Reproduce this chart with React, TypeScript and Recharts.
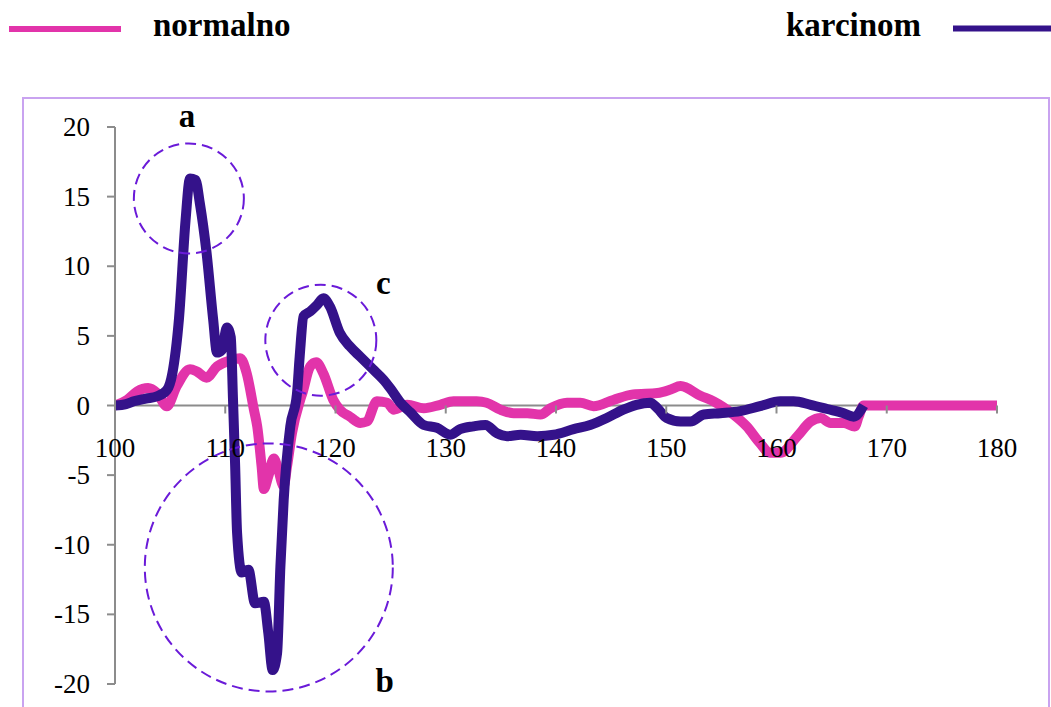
import React from "react";
import { LineChart, Line, XAxis, YAxis, ReferenceLine, ReferenceDot } from "recharts";

// x positions and values
const normalnoX = [
  100, 101.1, 102, 103, 103.8, 104.7, 105.6, 106.8, 107.4, 108.3, 109.25, 110.3, 111.35, 111.95,
  112.6, 112.9, 113.3, 113.5, 113.9, 114.4, 114.8, 115.3, 115.6, 116.05, 116.8, 117, 117.7, 118.25,
  118.9, 119.8, 120.4, 121.3, 122.25, 122.85, 123.75, 124.7, 125.3, 126.5, 128, 129.5, 130.7, 132.8,
  133.7, 134.95, 136.15, 137.4, 138.6, 139.5, 141, 142.2, 143.4, 145.2, 147, 149.2, 150.4, 151.3,
  153.1, 154.3, 156.1, 157.3, 158.5, 159.4, 160.35, 161.9, 163.1, 164, 164.9, 166.1, 167.1, 167.45,
  167.9, 170, 175, 180,
];
const normalnoY = [
  0, 0.4, 1.0, 1.25, 0.9, -0.05, 1.4, 2.6, 2.45, 2.0, 2.8, 3.2, 3.4, 2.3,
  -0.3, -1.5, -4.4, -6.0, -5.1, -3.8, -4.6, -5.8, -4.4, -2.0, 0.4, 0.9, 2.8, 3.1,
  2.3, 0.4, -0.3, -0.8, -1.25, -1.15, 0.3, 0.2, -0.3, 0.05, -0.2, 0.05, 0.3, 0.3,
  0.2, -0.3, -0.55, -0.55, -0.65, -0.2, 0.2, 0.2, -0.05, 0.4, 0.8, 0.9, 1.15, 1.4,
  0.7, 0.3, -0.65, -1.5, -2.7, -3.4, -3.4, -2.2, -1.15, -0.9, -1.25, -1.25, -1.5, -0.8,
  0, 0, 0, 0,
];

const karcinomX = [
  100, 101, 101.7, 102.8, 103.8, 104.7, 105.2, 105.8, 106.4, 106.8, 107.3, 107.7, 108.3, 108.9,
  109.25, 109.7, 110.15, 110.5, 110.7, 110.9, 111.07, 111.5, 112.1, 112.7, 113.5, 113.9, 114.3, 114.7,
  115, 115.3, 115.9, 116.5, 116.75, 117.1, 117.7, 118.3, 118.9, 119.5, 120.4, 121.3, 122.25, 123.4,
  124.35, 125, 125.9, 126.8, 128, 129.2, 130.4, 131.3, 132.5, 133.6, 134.65, 135.55, 136.8, 138.3,
  139.8, 141.6, 143.1, 144.6, 146.1, 147.3, 148.55, 149.2, 150.05, 151.3, 152.2, 153.4, 154.9, 156.7,
  158.5, 160.35, 161.55, 163.1, 164.6, 166.1, 167, 167.9,
];
const karcinomY = [
  0, 0.1, 0.3, 0.5, 0.65, 1.1, 2.3, 6.2, 13.3, 16.3, 16.2, 14.5, 11, 6.2,
  3.8, 4.0, 5.6, 4.9, 0.5, -4.4, -9.1, -12, -11.8, -14.2, -14.1, -16.3, -19, -17.8,
  -11.6, -6.8, -1.5, 0.8, 3.5, 6.4, 6.75, 7.2, 7.7, 7.1, 5.2, 4.25, 3.5, 2.6,
  1.85, 1.2, 0.2, -0.5, -1.4, -1.6, -2.1, -1.7, -1.5, -1.4, -2.0, -2.2, -2.1, -2.2,
  -2.1, -1.7, -1.4, -0.9, -0.3, 0.05, 0.2, -0.2, -0.9, -1.15, -1.15, -0.65, -0.55, -0.4,
  -0.05, 0.3, 0.3, 0.05, -0.25, -0.55, -0.8, 0,
];

const xTicks = [100, 110, 120, 130, 140, 150, 160, 170, 180];
const yTicks = [-20, -15, -10, -5, 0, 5, 10, 15, 20];

const normalnoData = normalnoX.map((x, i) => ({ x, y: normalnoY[i] }));
const karcinomData = karcinomX.map((x, i) => ({ x, y: karcinomY[i] }));

const PINK = "#e234aa";
const PURPLE = "#34128a";
const CIRCLE = "#6a1ad8";
const AXIS = "#8c8c8c";
const SERIF = "'Liberation Serif', serif";

const W = 1051;
const H = 707;
const M = { top: 127, right: 54, bottom: 22, left: 20 };
const PLOT_H = H - M.top - M.bottom - 1;

const numStyle = { fontFamily: SERIF, fontSize: 27, fill: "#000" };
const boldStyle = { fontFamily: SERIF, fontSize: 33, fontWeight: 700, fill: "#000" };

// x axis crosses at y = 0, so ticks are drawn from the zero line
const ZeroAxisTick = ({ x, y, payload }: any) => {
  const zeroY = y - PLOT_H / 2;
  return (
    <g>
      <line x1={x} x2={x} y1={zeroY} y2={zeroY + 8} stroke={AXIS} strokeWidth={2} />
      <text x={x} y={zeroY + 51} textAnchor="middle" style={numStyle}>
        {payload.value}
      </text>
    </g>
  );
};

const YTick = ({ x, y, payload }: any) => (
  <text x={x} y={y + 9} textAnchor="end" style={numStyle}>
    {payload.value}
  </text>
);

const letter = (ch: string) => (props: any) => {
  const vb = props.viewBox || {};
  return (
    <text x={vb.x} y={vb.y} textAnchor="middle" style={boldStyle}>
      {ch}
    </text>
  );
};

export default function App() {
  return (
    <div style={{ position: "absolute", left: 0, top: 0, width: W, height: H, background: "#fff", overflow: "hidden" }}>
      <svg width={W} height={60} style={{ position: "absolute", left: 0, top: 0 }}>
        <line x1={9} x2={121} y1={29} y2={29} stroke={PINK} strokeWidth={6} />
        <text x={153} y={36} style={boldStyle}>
          normalno
        </text>
        <text x={786} y={36} style={boldStyle}>
          karcinom
        </text>
        <line x1={953} x2={1051} y1={28.5} y2={28.5} stroke={PURPLE} strokeWidth={6} />
      </svg>
      <div
        style={{
          position: "absolute",
          left: 22,
          top: 97,
          width: 1024,
          height: 700,
          border: "2px solid #c9a3f0",
        }}
      />
      <div style={{ position: "absolute", left: 0, top: 0 }}>
        <LineChart width={W} height={H} margin={M}>
          <XAxis
            dataKey="x"
            type="number"
            domain={[100, 180]}
            ticks={xTicks}
            interval={0}
            axisLine={false}
            tickLine={false}
            tickSize={0}
            tickMargin={0}
            height={1}
            tick={<ZeroAxisTick />}
            allowDataOverflow
          />
          <YAxis
            type="number"
            domain={[-20, 20]}
            ticks={yTicks}
            interval={0}
            width={95}
            axisLine={{ stroke: AXIS, strokeWidth: 2 }}
            tickLine={{ stroke: AXIS, strokeWidth: 2 }}
            tickSize={8}
            tickMargin={17}
            tick={<YTick />}
            allowDataOverflow
          />
          <ReferenceLine y={0} stroke={AXIS} strokeWidth={2} />
          <Line
            data={normalnoData}
            dataKey="y"
            type="monotone"
            stroke={PINK}
            strokeWidth={10}
            dot={false}
            strokeLinejoin="round"
            isAnimationActive={false}
          />
          <Line
            data={karcinomData}
            dataKey="y"
            type="monotone"
            stroke={PURPLE}
            strokeWidth={10}
            dot={false}
            strokeLinejoin="round"
            isAnimationActive={false}
          />
          <ReferenceDot x={106.7} y={14.87} r={55} fill="none" stroke={CIRCLE} strokeWidth={2} strokeDasharray="11 6" />
          <ReferenceDot x={113.95} y={-11.63} r={124} fill="none" stroke={CIRCLE} strokeWidth={2} strokeDasharray="11 6" />
          <ReferenceDot x={118.67} y={4.69} r={55.5} fill="none" stroke={CIRCLE} strokeWidth={2} strokeDasharray="11 6" />
          <ReferenceDot x={106.53} y={20.02} r={0} fill="none" stroke="none" ifOverflow="visible" label={letter("a")} />
          <ReferenceDot x={124.34} y={7.99} r={0} fill="none" stroke="none" ifOverflow="visible" label={letter("c")} />
          <ReferenceDot x={124.46} y={-20.55} r={0} fill="none" stroke="none" ifOverflow="visible" label={letter("b")} />
        </LineChart>
      </div>
    </div>
  );
}
